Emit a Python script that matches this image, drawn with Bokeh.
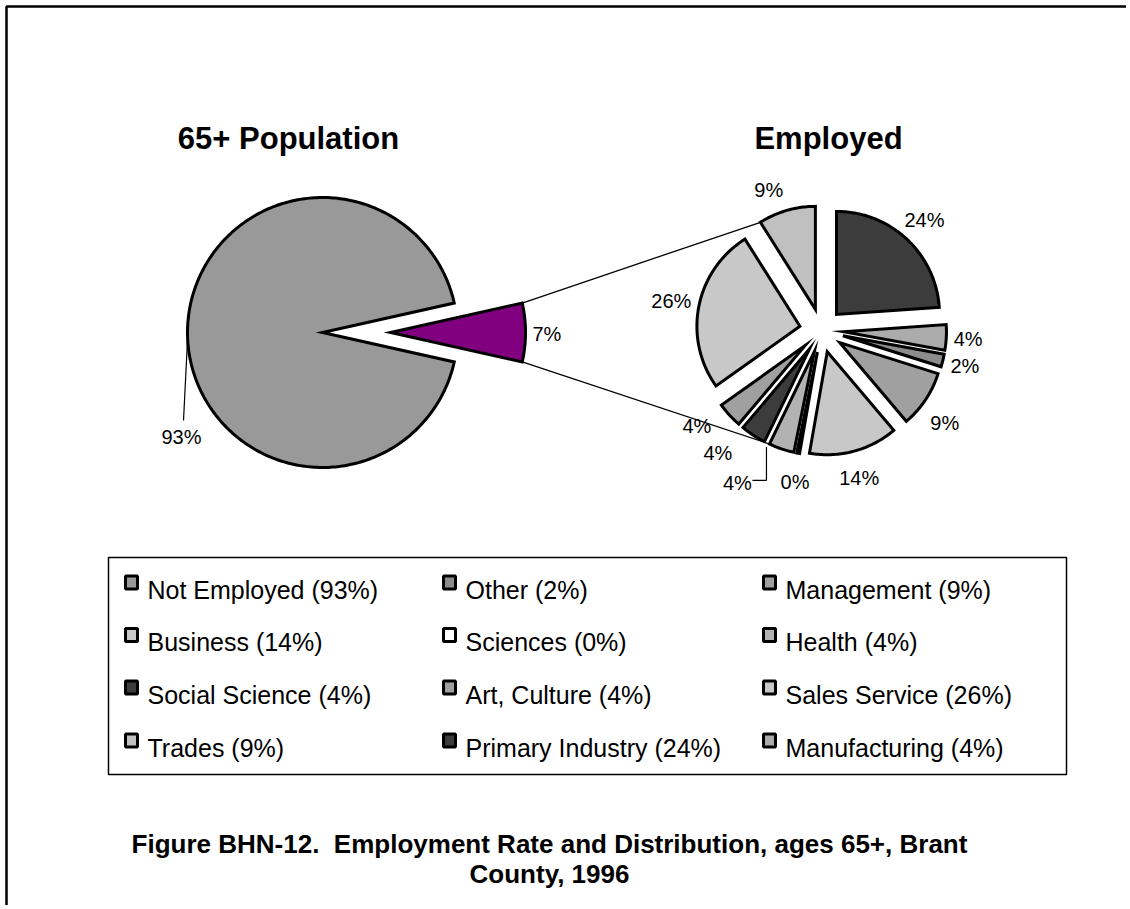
import numpy as np
from bokeh.plotting import figure
from bokeh.models import Range1d
from bokeh.embed import file_html
from bokeh.resources import INLINE
from bokeh.core.properties import value

# ---------------- data ----------------
pop_categories = ["Not Employed", "Employed"]
pop_values = [93, 7]

emp_categories = ["Other", "Management", "Business", "Sciences", "Health",
                  "Social Science", "Art, Culture", "Sales Service", "Trades",
                  "Primary Industry", "Manufacturing"]
emp_values = [2, 9, 14, 0.45, 4, 4, 4, 26, 9, 24, 4]

legend_order = ["Not Employed"] + emp_categories

# ---------------- style ----------------
pop_colors = {"Not Employed": "#999999", "Employed": "#800080"}
emp_colors = {"Other": "#8c8c8c", "Management": "#a0a0a0", "Business": "#c8c8c8",
              "Sciences": "#ffffff", "Health": "#b2b2b2", "Social Science": "#3c3c3c",
              "Art, Culture": "#a0a0a0", "Sales Service": "#c8c8c8", "Trades": "#c0c0c0",
              "Primary Industry": "#3c3c3c", "Manufacturing": "#ababab"}
FONT = value("Liberation Sans")

W, H = 1126, 905
p = figure(width=W, height=H, output_backend="svg", toolbar_location=None,
           x_axis_type=None, y_axis_type=None, min_border=0,
           x_range=Range1d(0, W), y_range=Range1d(H, 0))
p.outline_line_color = None
p.grid.visible = False
p.background_fill_color = "white"


def arc_pt(cx, cy, r, a):
    t = np.radians(a)
    return cx + r * np.sin(t), cy - r * np.cos(t)


def slice_poly(cx, cy, r, a0, a1):
    n = max(3, int(abs(a1 - a0) / 1.0) + 2)
    t = np.radians(np.linspace(a0, a1, n))
    xs = np.concatenate([[cx], cx + r * np.sin(t)])
    ys = np.concatenate([[cy], cy - r * np.cos(t)])
    return list(xs), list(ys)


def label_pos(ax, ay, r, mid, txt, fs, gap=7):
    t = np.radians(mid)
    ux, uy = np.sin(t), -np.cos(t)
    w = fs * 0.556 * (len(txt) - 1) + fs * 0.889
    ext = (w / 2) * abs(ux) + (fs * 0.36) * abs(uy)
    d = r + gap + ext
    return ax + d * ux, ay + d * uy


# frame (top & left)
p.line(x=[6, 6, W + 20], y=[H + 20, 6, 6], line_color="black", line_width=2.5)

# ---------------- left pie ----------------
LCX, LCY, R1, EX1 = 322, 332, 135, 68
tot1 = sum(pop_values)
emp_ang = pop_values[1] / tot1 * 360
xs_l, ys_l, cols_l = [], [], []
a0, a1 = 90 + emp_ang / 2, 90 - emp_ang / 2 + 360
xx, yy = slice_poly(LCX, LCY, R1, a0, a1)
xs_l.append(xx); ys_l.append(yy); cols_l.append(pop_colors["Not Employed"])
ecx, ecy = arc_pt(LCX, LCY, EX1, 90)
xx, yy = slice_poly(ecx, ecy, R1, 90 - emp_ang / 2, 90 + emp_ang / 2)
xs_l.append(xx); ys_l.append(yy); cols_l.append(pop_colors["Employed"])
p.patches(xs_l, ys_l, fill_color=cols_l, line_color="black", line_width=3,
          line_join="miter")

top_corner = arc_pt(ecx, ecy, R1, 90 - emp_ang / 2)
bot_corner = arc_pt(ecx, ecy, R1, 90 + emp_ang / 2)

lx, ly = label_pos(ecx, ecy, R1, 90, f"{pop_values[1]}%", 20)
p.text(x=[lx, 181], y=[ly + 1, 436], text=[f"{pop_values[1]}%", f"{pop_values[0]}%"],
       text_font=FONT, text_font_size="20px", text_align="center",
       text_baseline="middle", text_color="black")
lp = arc_pt(LCX, LCY, R1, 278)
p.line(x=[lp[0], 183], y=[lp[1], 420], line_color="black", line_width=1.2)

# ---------------- right pie ----------------
RCX, RCY, R2, EX2 = 821, 330, 103, 22
tot2 = sum(emp_values)
start_idx = emp_categories.index("Primary Industry")
order = [(start_idx + k) % len(emp_categories) for k in range(len(emp_categories))]
xs_r, ys_r, cols_r = [], [], []
geo = {}
cum = 0.0
for i in order:
    name = emp_categories[i]
    a0 = cum / tot2 * 360
    cum += emp_values[i]
    a1 = cum / tot2 * 360
    mid = (a0 + a1) / 2
    ax, ay = arc_pt(RCX, RCY, EX2, mid)
    xx, yy = slice_poly(ax, ay, R2, a0, a1)
    xs_r.append(xx); ys_r.append(yy); cols_r.append(emp_colors[name])
    geo[name] = (ax, ay, a0, a1, mid)
p.patches(xs_r, ys_r, fill_color=cols_r, line_color="black", line_width=3,
          line_join="miter")

# connector lines
tr = geo["Trades"]
he = geo["Health"]
c_top = arc_pt(tr[0], tr[1], R2, tr[2])
c_bot = arc_pt(he[0], he[1], R2, he[3])
p.segment(x0=[top_corner[0], bot_corner[0]], y0=[top_corner[1], bot_corner[1]],
          x1=[c_top[0], c_bot[0]], y1=[c_top[1], c_bot[1]],
          line_color="black", line_width=1.3)

# right labels
label_shift = {"Trades": (-13, -3), "Social Science": (-24, 0),
               "Art, Culture": (-16, -4), "Health": (-38, 17),
               "Management": (0, 10), "Business": (0, 8), "Sciences": (0, 12)}
txs, tys, tts = [], [], []
for i in order:
    name = emp_categories[i]
    ax, ay, a0, a1, mid = geo[name]
    t = f"{round(emp_values[i])}%"
    x, y = label_pos(ax, ay, R2, mid, t, 20)
    dx, dy = label_shift.get(name, (0, 0))
    txs.append(x + dx); tys.append(y + dy); tts.append(t)
p.text(x=txs, y=tys, text=tts, text_font=FONT, text_font_size="20px",
       text_align="center", text_baseline="middle", text_color="black")
hx, hy = arc_pt(he[0], he[1], R2, he[3])
k_h = order.index(emp_categories.index("Health"))
hl, hly = txs[k_h], tys[k_h]
p.line(x=[hl + 15, hx - 3, hx - 3], y=[hly - 3, hly - 3, hy + 3],
       line_color="black", line_width=1.2)

# ---------------- titles ----------------
p.text(x=[288, 828], y=[138, 138], text=["65+ Population", "Employed"],
       text_font=FONT, text_font_size="31px", text_font_style="bold",
       text_align="center", text_baseline="middle", text_color="black")

# ---------------- legend ----------------
p.quad(left=[108], right=[1066], top=[557], bottom=[774], fill_color=None,
       line_color="black", line_width=1.5)
all_vals = {"Not Employed": pop_values[0]}
all_vals.update(dict(zip(emp_categories, emp_values)))
all_cols = {"Not Employed": pop_colors["Not Employed"]}
all_cols.update(emp_colors)
col_sw = [131, 449, 769]
col_tx = [147, 465, 785]
row_mid = [589, 641.5, 694, 747]
sx, sy, sc, tx, ty, tt = [], [], [], [], [], []
for k, name in enumerate(legend_order):
    r, c = divmod(k, 3)
    sx.append(col_sw[c]); sy.append(row_mid[r] - 7); sc.append(all_cols[name])
    tx.append(col_tx[c]); ty.append(row_mid[r])
    tt.append(f"{name} ({round(all_vals[name])}%)")
p.rect(x=sx, y=sy, width=12, height=13, fill_color=sc, line_color="black",
       line_width=3)
p.text(x=tx, y=ty, text=tt, text_font=FONT, text_font_size="25px",
       text_align="left", text_baseline="middle", text_color="black")

# ---------------- caption ----------------
p.text(x=[549, 549], y=[843, 873],
       text=["Figure BHN-12.\u00a0 Employment Rate and Distribution, ages 65+, Brant",
             "County, 1996"],
       text_font=FONT, text_font_size="26px", text_font_style="bold",
       text_align="center", text_baseline="middle", text_color="black")

open("out.html", "w").write(file_html(p, INLINE))
